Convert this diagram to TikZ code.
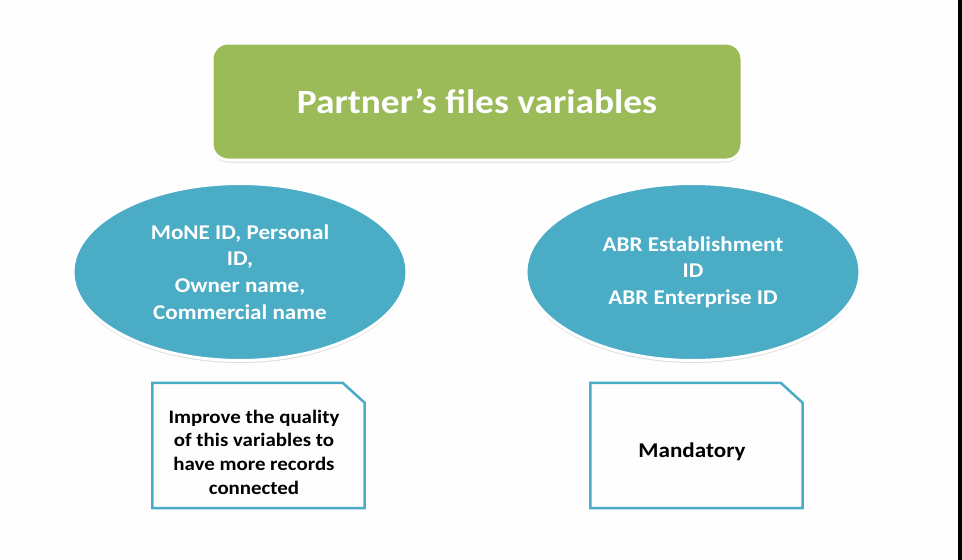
\documentclass[tikz,border=0pt]{standalone}
\usepackage{fontspec}
\setmainfont[FakeStretch=1.1]{Carlito}
\usetikzlibrary{shapes.geometric,shadows}
\definecolor{pgreen}{HTML}{9BBB59}
\definecolor{pblue}{HTML}{4BACC6}
\tikzset{
  titlebox/.style={rectangle, rounded corners=16pt, fill=pgreen, draw=white, line width=3pt,
    minimum width=530pt, minimum height=117pt, inner sep=0pt,
    text=white, font=\bfseries\fontsize{34}{40}\selectfont,
    drop shadow={shadow xshift=0pt, shadow yshift=-2.5pt, opacity=0.25, fill=gray}},
  idoval/.style={ellipse, fill=pblue, draw=white, line width=3pt,
    minimum width=334pt, minimum height=177pt, inner sep=0pt,
    text=white, align=center, font=\bfseries\fontsize{21}{26.7}\selectfont,
    drop shadow={shadow xshift=0pt, shadow yshift=-2.5pt, opacity=0.25, fill=gray}},
  notebox/.style={rectangle, minimum width=212pt, minimum height=125pt, inner sep=0pt},
  noteline/.style={draw=pblue, line width=2.5pt, line join=miter},
  notetext/.style={text=black, align=center}
}
\begin{document}
\begin{tikzpicture}[x=1pt,y=-1pt]
\useasboundingbox (0,0) rectangle (962,560);
\fill[white!99!gray] (0,0) rectangle (962,560);
\fill[black] (958,0) rectangle (962,560);
\node[titlebox] (title) at (477,101.5) {Partner’s files variables};
\node[idoval] (left) at (240,272) {MoNE ID, Personal\\ID,\\Owner name,\\Commercial name};
\node[idoval] (right) at (693,272) {ABR Establishment\\ID\\ABR Enterprise ID};
\node[notebox] (leftnote) at (258.5,445.5) {};
\draw[noteline] (leftnote.south west) -- (leftnote.north west) -- ([xshift=-22pt]leftnote.north east)
  -- ([yshift=-20pt]leftnote.north east) -- (leftnote.south east) -- cycle;
\node[notetext, font=\bfseries\fontsize{19}{23.7}\selectfont] (lefttext) at (254,452)
  {Improve the quality\\of this variables to\\have more records\\connected};
\node[notebox] (rightnote) at (696.5,445.5) {};
\draw[noteline] (rightnote.south west) -- (rightnote.north west) -- ([xshift=-22pt]rightnote.north east)
  -- ([yshift=-20pt]rightnote.north east) -- (rightnote.south east) -- cycle;
\node[notetext, font=\bfseries\fontsize{21}{26}\selectfont] (righttext) at (692,452) {Mandatory};
\end{tikzpicture}
\end{document}
